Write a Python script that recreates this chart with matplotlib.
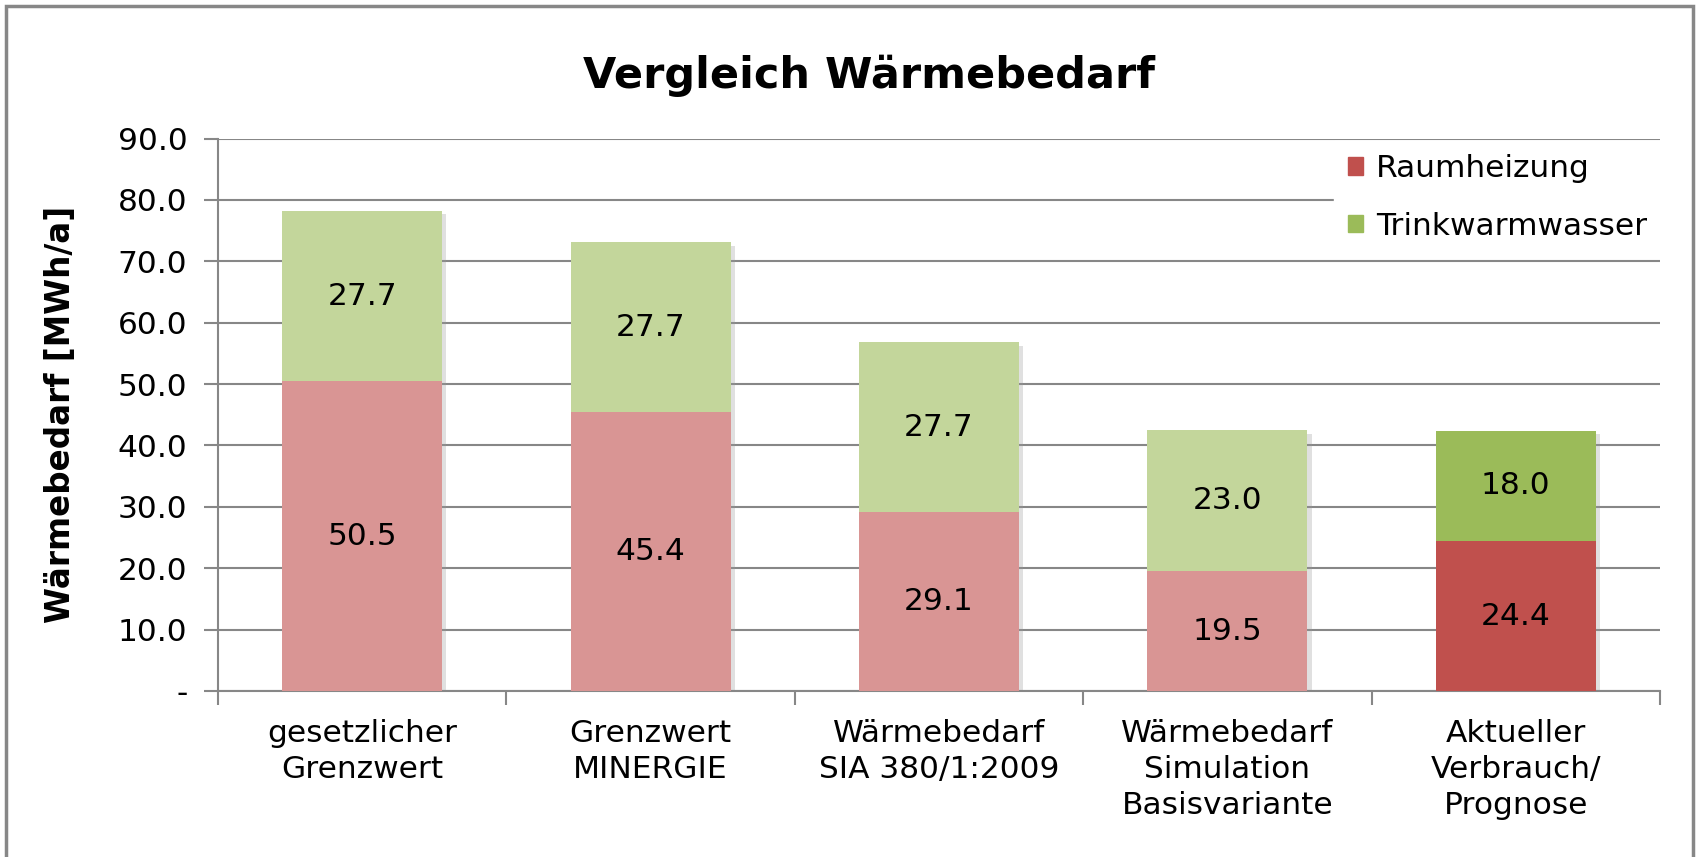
import matplotlib
matplotlib.use("Agg")
import matplotlib.pyplot as plt
import matplotlib.patheffects as pe
from matplotlib.patches import Rectangle, Patch
from matplotlib.ticker import FixedLocator

categories = ["gesetzlicher\nGrenzwert", "Grenzwert\nMINERGIE", "Wärmebedarf\nSIA 380/1:2009",
              "Wärmebedarf\nSimulation\nBasisvariante", "Aktueller\nVerbrauch/\nPrognose"]
raumheizung = [50.5, 45.4, 29.1, 19.5, 24.4]
trinkwarmwasser = [27.7, 27.7, 27.7, 23.0, 18.0]
yticks = [0, 10, 20, 30, 40, 50, 60, 70, 80, 90]
ytick_labels = ["-", "10.0", "20.0", "30.0", "40.0", "50.0", "60.0", "70.0", "80.0", "90.0"]

red_light, red = "#D99594", "#C0504D"
green_light, green = "#C3D69B", "#9BBB59"
gray = "#878787"
fs = 22.5

plt.rcParams["font.family"] = "DejaVu Sans"

fig = plt.figure(figsize=(16.98, 8.57), dpi=100)
ax = fig.add_axes([0.1284, 0.1937, 0.9776 - 0.1284, 0.8383 - 0.1937])

x = list(range(len(categories)))
totals = [a + b for a, b in zip(raumheizung, trinkwarmwasser)]
red_cols = [red_light] * 4 + [red]
green_cols = [green_light] * 4 + [green]
w = 0.555

# shadow behind the whole stacked bar
shadow = ax.bar(x, totals, w, color="white", zorder=2)
for p in shadow:
    p.set_path_effects([pe.SimplePatchShadow(offset=(3, -2.5), shadow_rgbFace="#999999", alpha=0.3),
                        pe.Normal()])

b1 = ax.bar(x, raumheizung, w, color=red_cols, zorder=3)
b2 = ax.bar(x, trinkwarmwasser, w, bottom=raumheizung, color=green_cols, zorder=3)

for i in x:
    ax.text(i, raumheizung[i] / 2, f"{raumheizung[i]:.1f}", ha="center", va="center",
            fontsize=fs, color="black", zorder=4)
    ax.text(i, raumheizung[i] + trinkwarmwasser[i] / 2, f"{trinkwarmwasser[i]:.1f}",
            ha="center", va="center", fontsize=fs, color="black", zorder=4)

ax.set_xlim(-0.5, len(categories) - 0.5)
ax.set_ylim(0, 90)
ax.set_yticks(yticks)
ax.set_yticklabels(ytick_labels, fontsize=fs)
ax.set_xticks(x)
ax.set_xticklabels(categories, fontsize=fs, linespacing=1.3)
ax.xaxis.set_minor_locator(FixedLocator([i - 0.5 for i in range(len(categories) + 1)]))
ax.tick_params(axis="x", which="major", length=0, pad=20)
ax.tick_params(axis="x", which="minor", length=10, color=gray, width=1.5)
ax.tick_params(axis="y", length=10, color=gray, width=1.5, pad=12)

ax.grid(axis="y", color=gray, linewidth=1.5, zorder=0)
ax.set_axisbelow(True)
for s in ["top", "right"]:
    ax.spines[s].set_visible(False)
for s in ["left", "bottom"]:
    ax.spines[s].set_color(gray)
    ax.spines[s].set_linewidth(1.5)

ax.set_ylabel("Wärmebedarf [MWh/a]", fontsize=23.5, fontweight="bold")
ax.yaxis.set_label_coords(-0.098, 0.5)

fig.text(0.512, 0.912, "Vergleich Wärmebedarf", ha="center", va="center",
         fontsize=31, fontweight="bold")

handles = [Patch(color=red, label="Raumheizung"), Patch(color=green, label="Trinkwarmwasser")]
leg = ax.legend(handles=handles, loc="upper right", bbox_to_anchor=(1.0, 0.995), fontsize=fs,
                frameon=True, fancybox=False, handlelength=0.5, handleheight=0.5,
                handletextpad=0.4, labelspacing=0.9, borderpad=0.42, borderaxespad=0)
leg.get_frame().set_edgecolor("white")
leg.get_frame().set_facecolor("white")
leg.get_frame().set_alpha(1)

# outer chart border
fig.patches.append(Rectangle((6 / 1698, -0.1), (1693 - 6) / 1698, 1.1 - 6.5 / 857,
                             transform=fig.transFigure, fill=False, edgecolor=gray, linewidth=2.5))

fig.savefig("out.png", dpi=100)
